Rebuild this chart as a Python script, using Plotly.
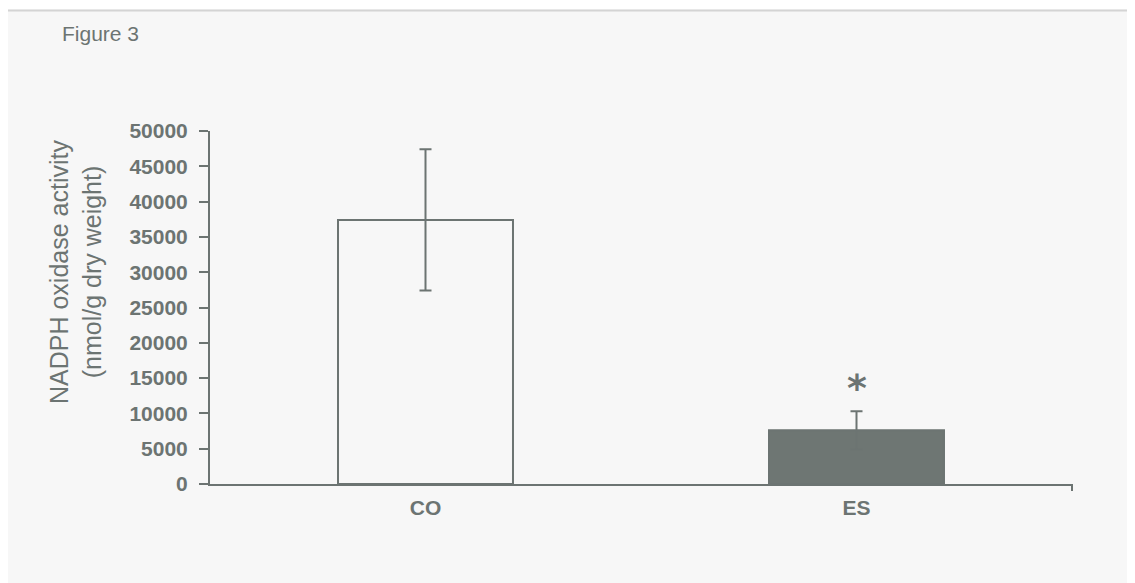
import plotly.graph_objects as go

categories = ["CO", "ES"]
means = [37400, 7600]
errors = [10000, 2700]
bar_fills = ["#f7f7f7", "#6e7673"]
y_ticks = [0, 5000, 10000, 15000, 20000, 25000, 30000, 35000, 40000, 45000, 50000]
sig_label = "*"
sig_y = 14700

GRAY = "#6c7472"
W, H = 1135, 583
# page has an 8px body margin, so figure coords = screen coords - 8
L, R, T, B = 202, 71, 123, 107
pw, ph = W - L - R, H - T - B

def px(x):
    return (x - L) / pw

def py(y):
    return (H - B - y) / ph

fig = go.Figure()
fig.add_trace(go.Bar(
    x=categories, y=means, width=0.406,
    marker=dict(color=bar_fills, line=dict(color=GRAY, width=2)),
    error_y=dict(type="data", array=errors, visible=True, color=GRAY,
                 thickness=2, width=6),
    showlegend=False,
))

fig.add_annotation(x="ES", y=sig_y, text=sig_label, showarrow=False,
                   font=dict(family="DejaVu Sans", size=38, color=GRAY, weight="bold"),
                   yanchor="middle", yshift=-8)

fig.add_annotation(xref="paper", yref="paper", x=px(52), y=py(26),
                   xanchor="left", yanchor="middle", text="Figure 3",
                   showarrow=False,
                   font=dict(family="Liberation Sans", size=21, color=GRAY))

fig.add_annotation(xref="paper", yref="paper", x=px(67), y=py(264),
                   xanchor="center", yanchor="middle", textangle=-90,
                   text="NADPH oxidase activity<br>(nmol/g dry weight)",
                   showarrow=False,
                   font=dict(family="Liberation Sans", size=25, color=GRAY))

# white strip above the top border line
fig.add_shape(type="rect", xref="paper", yref="paper", layer="below",
              x0=px(-20), x1=px(W + 20), y0=py(1.5), y1=py(-20),
              fillcolor="white", line=dict(width=0))
fig.add_shape(type="line", xref="paper", yref="paper",
              x0=px(-20), x1=px(W + 20), y0=py(2.5), y1=py(2.5),
              line=dict(color="#d4d4d4", width=2))
# right-end tick of x axis
fig.add_shape(type="line", xref="x domain", yref="paper",
              x0=1, x1=1, y0=0, y1=py(H - B + 7),
              line=dict(color=GRAY, width=2))

fig.update_layout(
    width=W, height=H,
    margin=dict(l=L, r=R, t=T, b=B),
    paper_bgcolor="#f7f7f7",
    plot_bgcolor="#f7f7f7",
)
fig.update_xaxes(
    range=[-0.5, 1.5], showline=True, linecolor=GRAY, linewidth=2,
    showgrid=False, ticks="",
    tickfont=dict(family="Liberation Sans", size=21, color=GRAY, weight="bold"),
    ticklabelstandoff=4,
)
fig.update_yaxes(
    range=[0, 50000], tickvals=y_ticks, tickformat="d",
    showline=True, linecolor=GRAY, linewidth=2, showgrid=False, zeroline=False,
    ticks="outside", ticklen=9, tickwidth=2, tickcolor=GRAY,
    tickfont=dict(family="Liberation Sans", size=21, color=GRAY, weight="bold"),
    ticklabelstandoff=7,
)

fig.write_html("out.html")
